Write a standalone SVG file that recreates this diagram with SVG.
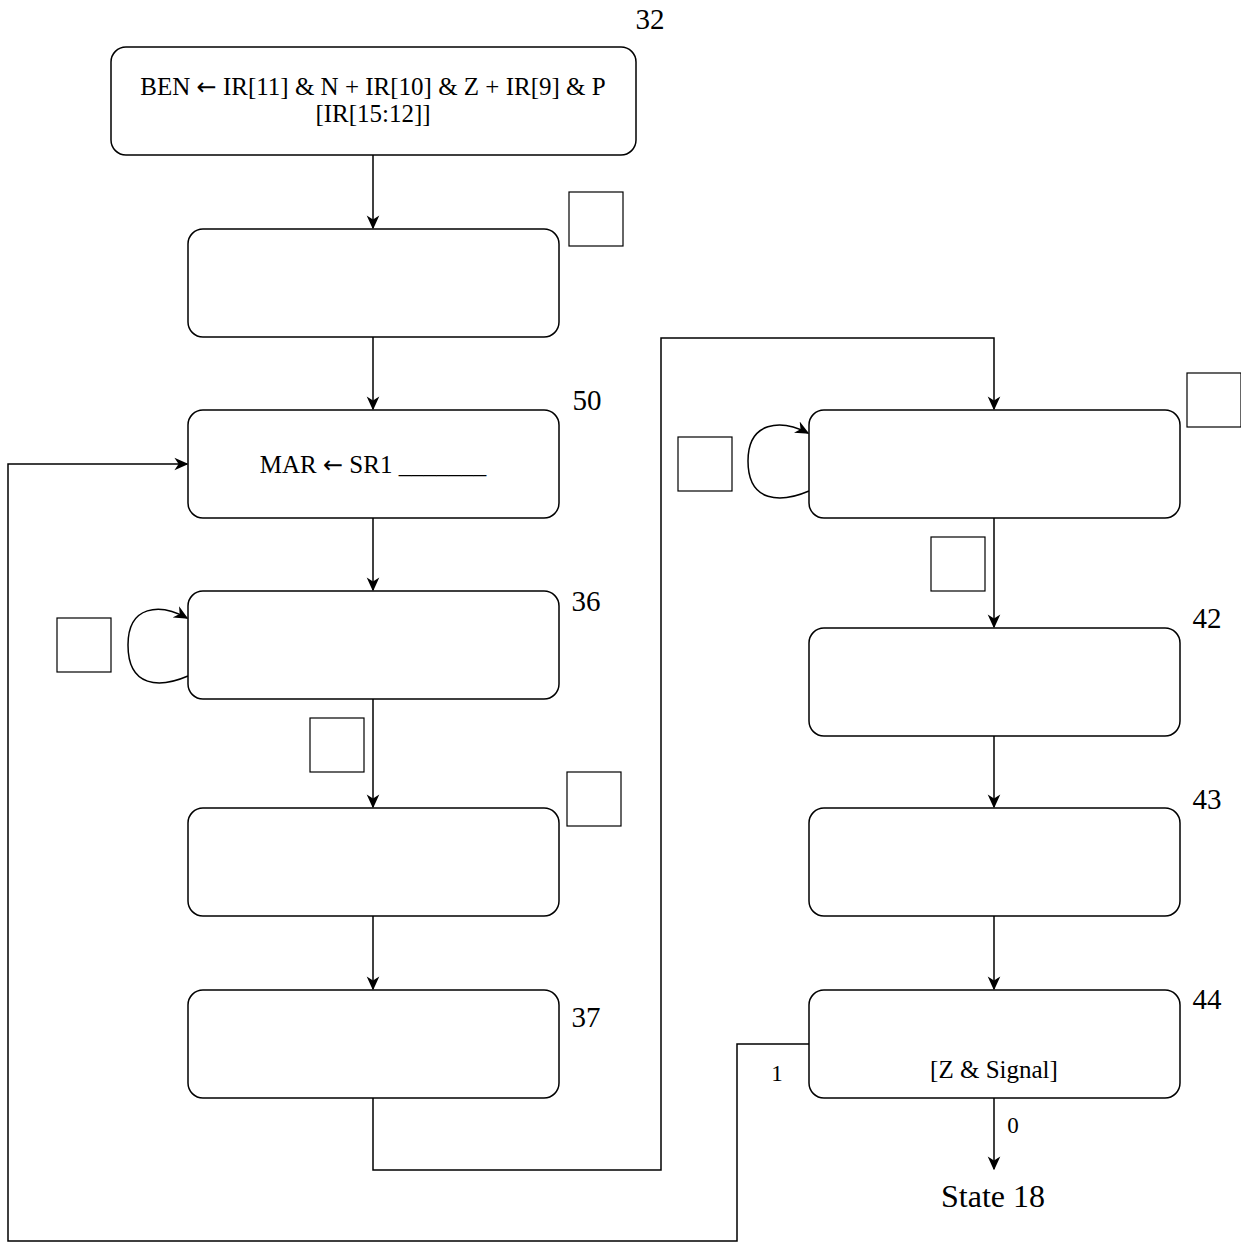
<svg xmlns="http://www.w3.org/2000/svg" width="1241" height="1243" viewBox="0 0 1241 1243">
<style>
.n{fill:#fff;stroke:#000;stroke-width:1.5}
.b{fill:none;stroke:#000;stroke-width:1.2}
.c{fill:none;stroke:#000;stroke-width:1.5}
.t{font-family:"Liberation Serif","Times New Roman",serif;fill:#000}
.s{font-size:25px}
.l{font-size:29px}
.e{font-size:23px}
.ar{font-family:"DejaVu Sans",sans-serif;font-size:24px}
</style>
<defs>
<marker id="a" viewBox="0 0 10 10" refX="9" refY="5" markerWidth="14" markerHeight="14" markerUnits="userSpaceOnUse" orient="auto">
<path d="M0,0.5 L10,5 L0,9.5 L3,5 Z" fill="#000"/>
</marker>
</defs>
<g id="connectors">
<path class="c" d="M373,155 V228" marker-end="url(#a)"/>
<path class="c" d="M373,337 V409" marker-end="url(#a)"/>
<path class="c" d="M373,518 V590" marker-end="url(#a)"/>
<path class="c" d="M373,699 V807" marker-end="url(#a)"/>
<path class="c" d="M373,916 V989" marker-end="url(#a)"/>
<path class="c" d="M373,1098 V1170 H661 V338 H994 V409" marker-end="url(#a)"/>
<path class="c" d="M994,518 V627" marker-end="url(#a)"/>
<path class="c" d="M994,736 V807" marker-end="url(#a)"/>
<path class="c" d="M994,916 V989" marker-end="url(#a)"/>
<path class="c" d="M809,1044 H737 V1241 H8 V464 H187" marker-end="url(#a)"/>
<path class="c" d="M994,1098 V1169" marker-end="url(#a)"/>
<path class="c" d="M188,676 C160,688 128,688 128,645 C128,605 160,603 187,618" marker-end="url(#a)"/>
<path class="c" d="M809,491 C781,503 748,503 748,461 C748,421 781,419 808,433" marker-end="url(#a)"/>
<text class="t e" x="777" y="1081" text-anchor="middle">1</text>
<text class="t e" x="1013" y="1133" text-anchor="middle">0</text>
</g>
<g id="n32">
<rect class="n" x="111" y="47" width="525" height="108" rx="15"/>
<text class="t s" x="373" y="95" text-anchor="middle">BEN <tspan class="ar">←</tspan> IR[11] &amp; N + IR[10] &amp; Z + IR[9] &amp; P</text>
<text class="t s" x="373" y="122" text-anchor="middle">[IR[15:12]]</text>
<text class="t l" x="650" y="29" text-anchor="middle">32</text>
</g>
<g id="n2">
<rect class="n" x="188" y="229" width="371" height="108" rx="15"/>
<rect class="b" x="569" y="192" width="54" height="54"/>
</g>
<g id="n50">
<rect class="n" x="188" y="410" width="371" height="108" rx="15"/>
<text class="t s" x="373" y="473" text-anchor="middle">MAR <tspan class="ar">←</tspan> SR1 _______</text>
<text class="t l" x="587" y="410" text-anchor="middle">50</text>
</g>
<g id="n36">
<rect class="n" x="188" y="591" width="371" height="108" rx="15"/>
<text class="t l" x="586" y="611" text-anchor="middle">36</text>
<rect class="b" x="57" y="618" width="54" height="54"/>
<rect class="b" x="310" y="718" width="54" height="54"/>
</g>
<g id="n5">
<rect class="n" x="188" y="808" width="371" height="108" rx="15"/>
<rect class="b" x="567" y="772" width="54" height="54"/>
</g>
<g id="n37">
<rect class="n" x="188" y="990" width="371" height="108" rx="15"/>
<text class="t l" x="586" y="1027" text-anchor="middle">37</text>
</g>
<g id="nR1">
<rect class="n" x="809" y="410" width="371" height="108" rx="15"/>
<rect class="b" x="1187" y="373" width="54" height="54"/>
<rect class="b" x="678" y="437" width="54" height="54"/>
<rect class="b" x="931" y="537" width="54" height="54"/>
</g>
<g id="n42">
<rect class="n" x="809" y="628" width="371" height="108" rx="15"/>
<text class="t l" x="1207" y="628" text-anchor="middle">42</text>
</g>
<g id="n43">
<rect class="n" x="809" y="808" width="371" height="108" rx="15"/>
<text class="t l" x="1207" y="809" text-anchor="middle">43</text>
</g>
<g id="n44">
<rect class="n" x="809" y="990" width="371" height="108" rx="15"/>
<text class="t s" x="994" y="1078" text-anchor="middle">[Z &amp; Signal]</text>
<text class="t l" x="1207" y="1009" text-anchor="middle">44</text>
</g>
<g id="state18">
<text class="t" x="993" y="1207" style="font-size:32px" text-anchor="middle">State 18</text>
</g>
</svg>
